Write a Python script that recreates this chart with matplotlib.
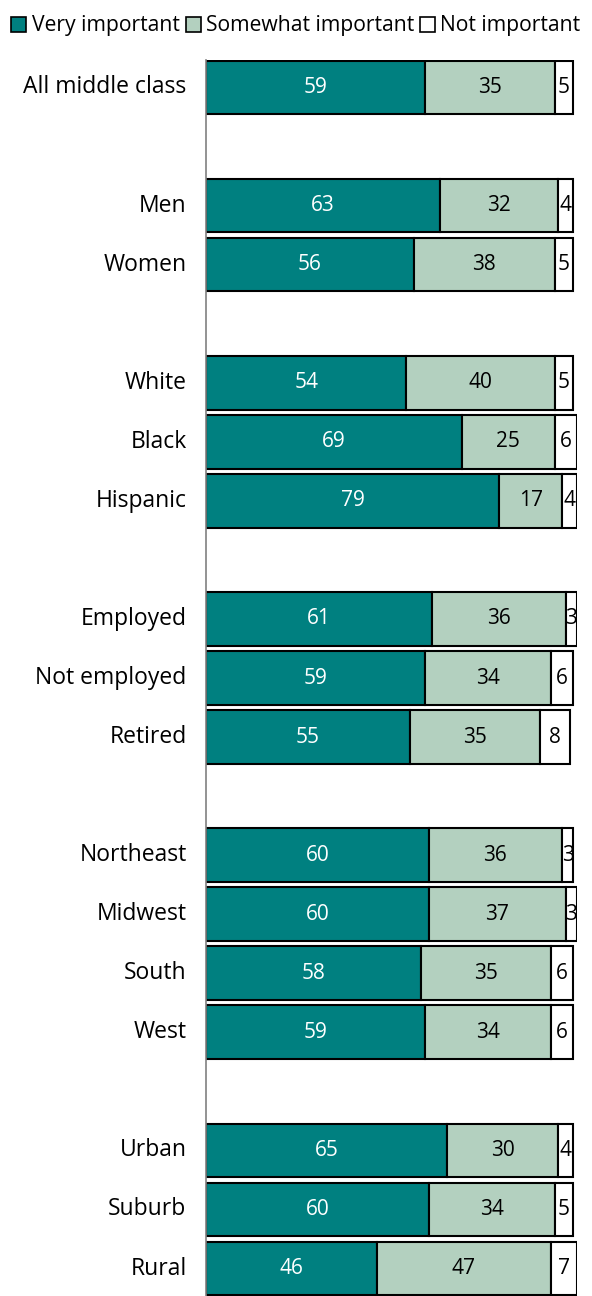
import numpy as np
import matplotlib.pyplot as plt
from matplotlib.patches import Patch

# --- data ---
categories = ["All middle class",
              "Men", "Women",
              "White", "Black", "Hispanic",
              "Employed", "Not employed", "Retired",
              "Northeast", "Midwest", "South", "West",
              "Urban", "Suburb", "Rural"]
very = [59, 63, 56, 54, 69, 79, 61, 59, 55, 60, 60, 58, 59, 65, 60, 46]
somewhat = [35, 32, 38, 40, 25, 17, 36, 34, 35, 36, 37, 35, 34, 30, 34, 47]
not_imp = [5, 4, 5, 5, 6, 4, 3, 6, 8, 3, 3, 6, 6, 4, 5, 7]
group_sizes = [1, 2, 3, 3, 4, 3]
series_names = ["Very important", "Somewhat important", "Not important"]

# --- style ---
colors = ["#008080", "#b3d0bf", "#ffffff"]
text_colors = ["white", "black", "black"]
plt.rcParams["font.family"] = ["Open Sans", "DejaVu Sans"]

# row positions, with one empty slot between groups
pos = []
slot = 0
for g in group_sizes:
    for _ in range(g):
        pos.append(slot)
        slot += 1
    slot += 1
pos = np.array(pos)

fig = plt.figure(figsize=(5.92, 12.96), dpi=100)
ax = fig.add_axes([206 / 592, 0.0, 371 / 592, 1 - 60 / 1296])

left = np.zeros(len(categories))
for vals, c, tc in zip([very, somewhat, not_imp], colors, text_colors):
    vals = np.array(vals)
    ax.barh(pos, vals, left=left, height=0.91, color=c,
            edgecolor="black", linewidth=1.5)
    for y, l, v in zip(pos, left, vals):
        ax.text(l + v / 2, y, str(v), ha="center", va="center",
                color=tc, fontsize=15)
    left = left + vals

ax.set_xlim(0, 100)
ax.set_ylim(pos[-1] + 0.465, -0.465)
ax.set_yticks(pos)
ax.set_yticklabels(categories, fontsize=16.5, va="center")
ax.tick_params(axis="y", length=0, pad=14)
ax.set_xticks([])
for s in ["top", "right", "bottom"]:
    ax.spines[s].set_visible(False)
ax.spines["left"].set_color("#808080")
ax.spines["left"].set_linewidth(1.2)

handles = [Patch(facecolor=c, edgecolor="black", linewidth=1.2) for c in colors]
fig.legend(handles, series_names, loc="center", bbox_to_anchor=(0.5, 1 - 26 / 1296),
           ncol=3, frameon=False, fontsize=15.2, handlelength=0.7, handleheight=0.7,
           handletextpad=0.25, columnspacing=0.3, borderaxespad=0)

fig.savefig("out.png", dpi=100)
